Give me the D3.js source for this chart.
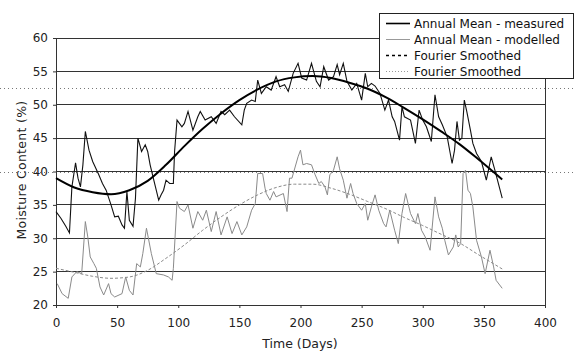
<!DOCTYPE html>
<html>
<head>
<meta charset="utf-8">
<script src="https://cdn.jsdelivr.net/npm/d3@7"></script>
<style>
  html, body { margin: 0; padding: 0; background: #fff; }
  svg { display: block; font-family: "DejaVu Sans", Arial, sans-serif; }
</style>
</head>
<body>
<svg id="chart" width="575" height="353"></svg>
<script>
// Daily soil moisture content (%) over one year: [day, value]
const measured = [[0,34.0],[4,33.0],[8,31.8],[11,30.8],[13,37.7],[16,41.3],[18,39.0],[20,37.7],[22,41.0],[24,46.0],[27,43.2],[30,41.5],[32,40.7],[35,39.5],[38,38.2],[41,37.2],[45,35.0],[48,33.2],[51,33.3],[54,32.0],[56,31.5],[58,37.0],[60,32.7],[63,31.8],[65,36.0],[67,45.0],[70,43.0],[73,44.0],[75,43.0],[77,41.0],[80,38.7],[84,35.7],[86,36.5],[88,37.2],[90,38.7],[93,38.2],[96,38.2],[97,43.0],[99,47.7],[103,46.7],[105,47.2],[108,49.0],[112,46.2],[116,48.2],[118,49.0],[122,47.7],[127,48.2],[131,47.2],[135,49.0],[138,48.5],[142,49.2],[146,48.2],[152,47.0],[154,49.2],[156,50.2],[160,50.7],[163,50.5],[165,53.7],[168,51.7],[172,52.7],[176,52.2],[180,54.2],[183,52.7],[187,53.0],[190,52.0],[194,54.7],[198,56.2],[201,54.0],[205,53.7],[209,56.2],[213,53.5],[216,52.7],[219,55.7],[223,53.7],[227,54.2],[230,56.0],[232,54.5],[235,56.2],[238,53.5],[242,52.2],[246,53.2],[250,50.7],[253,54.7],[255,52.7],[258,53.2],[261,52.8],[265,51.7],[269,49.2],[272,50.7],[275,48.2],[277,47.5],[281,44.7],[283,49.7],[285,48.2],[290,47.7],[294,44.2],[297,49.2],[300,47.7],[303,46.7],[307,44.5],[310,51.5],[313,48.2],[316,47.0],[320,45.2],[324,41.2],[326,43.2],[328,47.5],[330,44.7],[332,45.0],[334,50.7],[336,49.0],[339,46.2],[341,44.2],[344,42.7],[348,41.5],[352,38.7],[356,42.2],[359,40.2],[365,36.0]];

const modelled = [[1,23.2],[5,21.7],[10,21.0],[13,24.2],[17,25.0],[21,24.7],[24,32.5],[26,30.2],[28,27.2],[31,26.2],[33,25.5],[36,22.7],[39,21.5],[43,23.2],[45,21.7],[48,21.2],[54,21.7],[57,24.2],[60,22.2],[63,21.5],[66,26.2],[69,25.7],[71,27.7],[74,31.5],[78,27.7],[82,24.7],[88,24.5],[92,24.2],[95,23.7],[96,25.5],[99,35.5],[101,34.5],[105,34.0],[108,35.0],[112,31.5],[116,34.0],[120,32.7],[123,34.2],[127,31.0],[131,34.0],[135,30.5],[140,33.2],[144,30.7],[148,32.5],[152,30.5],[156,31.7],[160,34.2],[163,35.2],[165,39.7],[169,39.7],[171,37.5],[172,36.7],[175,35.7],[178,37.0],[180,36.2],[186,36.7],[189,34.0],[191,39.0],[193,39.0],[198,42.2],[200,43.2],[202,41.0],[205,41.2],[209,41.0],[212,39.5],[215,38.2],[217,38.5],[220,37.7],[222,36.5],[224,39.5],[227,40.2],[230,42.2],[232,40.4],[235,38.7],[238,36.0],[241,38.2],[243,36.7],[246,35.2],[250,34.2],[253,35.2],[255,32.7],[258,34.7],[261,36.5],[264,34.2],[268,32.2],[270,31.7],[273,34.2],[277,31.2],[280,29.2],[283,33.7],[286,36.7],[290,33.7],[294,32.2],[296,33.7],[299,31.2],[302,30.2],[306,28.2],[310,36.2],[313,33.2],[316,31.5],[318,29.7],[321,27.5],[325,28.7],[327,30.5],[329,28.7],[331,29.2],[333,39.7],[335,40.2],[337,37.2],[339,36.7],[341,34.7],[344,29.7],[348,27.2],[351,24.7],[355,28.2],[358,25.7],[360,23.7],[365,22.5]];

// Fourier-smoothed annual curves, sampled every 15 days
const smoothDays = [0,15,30,45,60,75,90,105,120,135,150,165,180,195,210,225,240,255,270,285,300,315,330,345,365];
const smoothMeasured = [39.0,37.6,36.9,36.6,37.2,38.6,41.0,43.8,46.4,48.7,50.7,52.3,53.5,54.1,54.3,54.0,53.3,52.4,51.1,49.5,47.8,46.0,44.1,41.9,38.8];
const smoothModelled = [25.5,24.9,24.3,24.0,24.2,25.2,27.0,29.0,31.2,33.2,35.0,36.5,37.6,38.1,38.1,37.5,36.6,35.5,34.4,33.1,31.9,30.6,29.3,27.6,25.4];

const xTicks = [0,50,100,150,200,250,300,350,400];
const yTicks = [20,25,30,35,40,45,50,55,60];
const legendLabels = ["Annual Mean - measured","Annual Mean - modelled","Fourier Smoothed","Fourier Smoothed"];

const svg = d3.select("#chart");
const W = 575;
const FONT = "'DejaVu Sans', Arial, sans-serif";

const x = d3.scaleLinear().domain([0, 400]).range([56, 545]);
const y = d3.scaleLinear().domain([20, 60]).range([305, 38]);

// horizontal grid lines
svg.append("g")
  .selectAll("line")
  .data(yTicks.slice(1))
  .join("line")
  .attr("x1", x(0)).attr("x2", x(400))
  .attr("y1", d => y(d)).attr("y2", d => y(d))
  .attr("stroke", "#333").attr("stroke-width", 1)
  .attr("shape-rendering", "crispEdges");

// faint dotted rules running across the page
svg.append("g")
  .selectAll("line")
  .data([52.5, 40])
  .join("line")
  .attr("x1", 0).attr("x2", W)
  .attr("y1", d => Math.round(y(d)) + 0.5).attr("y2", d => Math.round(y(d)) + 0.5)
  .attr("stroke", "#777").attr("stroke-width", 1)
  .attr("stroke-dasharray", "1,3");

// right border of the plot area
svg.append("line")
  .attr("x1", x(400)).attr("x2", x(400))
  .attr("y1", y(60)).attr("y2", y(20))
  .attr("stroke", "#333").attr("shape-rendering", "crispEdges");

// axes
const xAxis = svg.append("g")
  .attr("transform", `translate(0,${y(20)})`)
  .call(d3.axisBottom(x).tickValues(xTicks).tickSize(3).tickPadding(10).tickFormat(d3.format("d")));
const yAxis = svg.append("g")
  .attr("transform", `translate(${x(0)},0)`)
  .call(d3.axisLeft(y).tickValues(yTicks).tickSize(3).tickPadding(5).tickFormat(d3.format("d")));
[xAxis, yAxis].forEach(g => {
  g.select(".domain").attr("stroke", "#333").attr("shape-rendering", "crispEdges");
  g.selectAll(".tick line").attr("stroke", "#333");
  g.selectAll("text").attr("fill", "#222").style("font-size", "12px").style("font-family", FONT);
});

const line = d3.line().x(d => x(d[0])).y(d => y(d[1]));
const smoothLine = d3.line().x(d => x(d[0])).y(d => y(d[1])).curve(d3.curveMonotoneX);

// modelled daily values
svg.append("path")
  .datum(modelled)
  .attr("d", line)
  .attr("fill", "none").attr("stroke", "#8a8a8a").attr("stroke-width", 1);

// modelled, smoothed
svg.append("path")
  .datum(smoothDays.map((d, i) => [d, smoothModelled[i]]))
  .attr("d", smoothLine)
  .attr("fill", "none").attr("stroke", "#8a8a8a").attr("stroke-width", 1)
  .attr("stroke-dasharray", "3,2");

// measured daily values
svg.append("path")
  .datum(measured)
  .attr("d", line)
  .attr("fill", "none").attr("stroke", "#111").attr("stroke-width", 1.1);

// measured, smoothed
svg.append("path")
  .datum(smoothDays.map((d, i) => [d, smoothMeasured[i]]))
  .attr("d", smoothLine)
  .attr("fill", "none").attr("stroke", "#000").attr("stroke-width", 2);

// axis titles
svg.append("text")
  .attr("x", 300).attr("y", 348)
  .attr("text-anchor", "middle")
  .style("font-size", "12.5px").attr("fill", "#222")
  .text("Time (Days)");
svg.append("text")
  .attr("transform", "translate(26,170) rotate(-90)")
  .attr("text-anchor", "middle")
  .style("font-size", "12.5px").style("letter-spacing", "0.3px").attr("fill", "#222")
  .text("Moisture Content (%)");

// legend
const lg = svg.append("g");
lg.append("rect")
  .attr("x", 379.5).attr("y", 13.5).attr("width", 194).attr("height", 65)
  .attr("fill", "#fff").attr("stroke", "#222").attr("stroke-width", 1);
const legendStyles = [
  { stroke: "#000", width: 1.6, dash: null },
  { stroke: "#999", width: 1, dash: null },
  { stroke: "#000", width: 1.3, dash: "3,3" },
  { stroke: "#999", width: 1, dash: "1,2" }
];
const rows = lg.selectAll("g.row")
  .data(legendLabels)
  .join("g")
  .attr("class", "row")
  .attr("transform", (d, i) => `translate(0,${23.5 + i * 16})`);
rows.append("line")
  .attr("x1", 386).attr("x2", 410)
  .attr("y1", 0).attr("y2", 0)
  .attr("stroke", (d, i) => legendStyles[i].stroke)
  .attr("stroke-width", (d, i) => legendStyles[i].width)
  .attr("stroke-dasharray", (d, i) => legendStyles[i].dash);
rows.append("text")
  .attr("x", 414).attr("y", 4.5)
  .style("font-size", "12px").attr("fill", "#111")
  .text(d => d);
</script>
</body>
</html>
